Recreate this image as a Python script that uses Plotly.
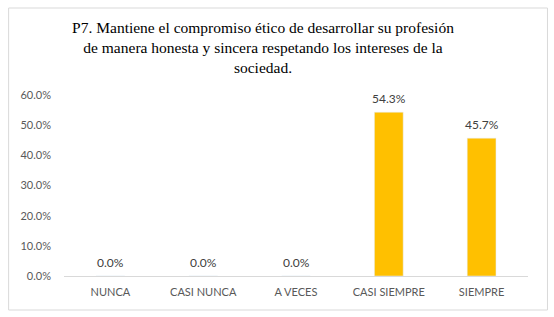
import plotly.graph_objects as go

categories = ["NUNCA", "CASI NUNCA", "A VECES", "CASI SIEMPRE", "SIEMPRE"]
values = [0.0, 0.0, 0.0, 0.543, 0.457]
labels = ["0.0%", "0.0%", "0.0%", "54.3%", "45.7%"]
tick_vals = [0, 0.1, 0.2, 0.3, 0.4, 0.5, 0.6]
tick_text = ["0.0%", "10.0%", "20.0%", "30.0%", "40.0%", "50.0%", "60.0%"]
title_text = ("P7. Mantiene el compromiso ético de desarrollar su profesión<br>"
              "de manera honesta y sincera respetando los intereses de la<br>sociedad.")

W, H = 554, 317
L, R, T, B = 63.5, 25.5, 95, 41
pw, ph = W - L - R, H - T - B
SANS = "Lato, Open Sans, sans-serif"

fig = go.Figure(go.Bar(
    x=categories, y=values,
    marker_color="#FFC000", width=0.31, cliponaxis=False,
))

for c, v, t in zip(categories, values, labels):
    fig.add_annotation(x=c, y=v, text=t, showarrow=False, yanchor="middle",
                       yshift=14, font=dict(family=SANS, size=12, color="#404040"))

def px(x): return (x - L) / pw
def py(y): return (H - B - y) / ph

fig.add_shape(type="rect", xref="paper", yref="paper",
              x0=px(8), x1=px(548), y0=py(310), y1=py(8),
              line=dict(color="#d9d9d9", width=1), fillcolor="rgba(0,0,0,0)", layer="below")

fig.update_layout(
    width=W, height=H,
    margin=dict(l=L, r=R, t=T, b=B),
    paper_bgcolor="white", plot_bgcolor="white",
    showlegend=False,
    title=dict(text=title_text, x=263 / W, xref="container", xanchor="center",
               y=(H - 33) / H, yanchor="top",
               font=dict(family="Liberation Serif, Times New Roman, serif", size=15.5, color="#000000")),
    xaxis=dict(showline=True, linecolor="#d9d9d9", linewidth=1, ticks="", showgrid=False,
               ticklabelstandoff=6,
               tickfont=dict(family=SANS, size=11, color="#595959")),
    yaxis=dict(range=[0, 0.6], tickvals=tick_vals, ticktext=tick_text, showgrid=False,
               zeroline=False, showline=False, ticks="", ticklabelstandoff=12,
               tickfont=dict(family=SANS, size=11, color="#595959")),
)

fig.write_html("out.html")
